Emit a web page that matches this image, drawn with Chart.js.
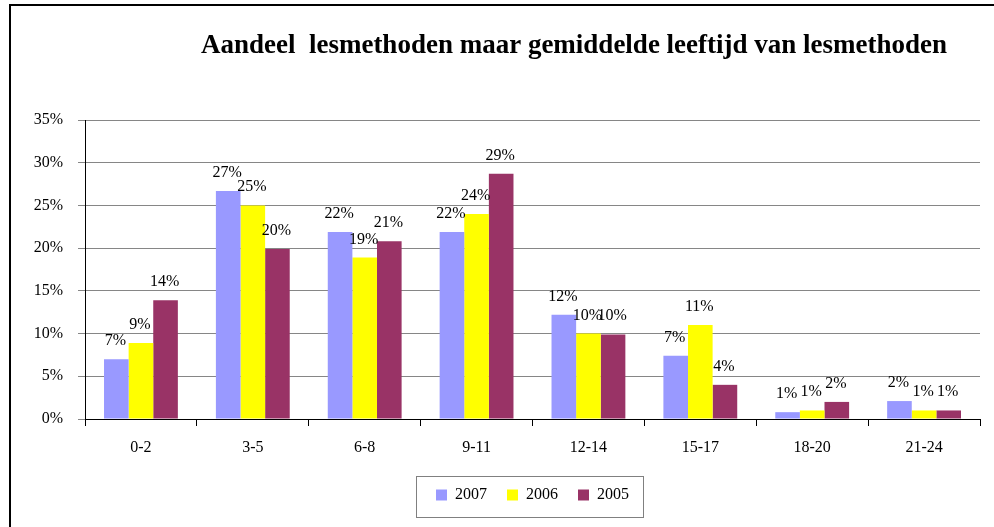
<!DOCTYPE html>
<html>
<head>
<meta charset="utf-8">
<script src="https://cdn.jsdelivr.net/npm/chart.js@4"></script>
<style>
    html, body { margin: 0; padding: 0; background: #fff; overflow: hidden; }
    #frame { position: absolute; left: 9px; top: 4px; width: 1100px; height: 700px; border: 2px solid #000; }
    #chart { position: absolute; left: 0; top: 0; }
</style>
</head>
<body>
<div id="frame"></div>
<canvas id="chart" width="994" height="527"></canvas>
<script>
// Data (percent)
const categories = ['0-2', '3-5', '6-8', '9-11', '12-14', '15-17', '18-20', '21-24'];
const values2007 = [7.0, 26.7, 21.9, 21.9, 12.2, 7.4, 0.8, 2.1];
const values2006 = [8.9, 25.0, 18.9, 24.0, 10.0, 11.0, 1.0, 1.0];
const values2005 = [13.9, 19.9, 20.8, 28.7, 9.9, 4.0, 2.0, 1.0];
const yTicks = [0, 5, 10, 15, 20, 25, 30, 35];

const titleText = 'Aandeel  lesmethoden maar gemiddelde leeftijd van lesmethoden';
const serif = '"Liberation Serif", "DejaVu Serif", serif';

Chart.defaults.font.family = serif;
Chart.defaults.color = '#000';

// Title is offset to the right of the plot, so it is drawn by hand
const titlePlugin = {
    id: 'offsetTitle',
    afterDraw(chart) {
        const ctx = chart.ctx;
        ctx.save();
        ctx.font = 'bold 27px ' + serif;
        ctx.fillStyle = '#000';
        ctx.textAlign = 'center';
        ctx.textBaseline = 'alphabetic';
        ctx.fillText(titleText, 574, 53);
        ctx.restore();
    }
};

// Percentage labels above each bar
const valueLabels = {
    id: 'valueLabels',
    afterDatasetsDraw(chart) {
        const ctx = chart.ctx;
        ctx.save();
        ctx.font = '16px ' + serif;
        ctx.fillStyle = '#000';
        ctx.textAlign = 'center';
        ctx.textBaseline = 'alphabetic';
        chart.data.datasets.forEach((ds, i) => {
            chart.getDatasetMeta(i).data.forEach((bar, j) => {
                ctx.fillText(Math.round(ds.data[j]) + '%', bar.x - 1, bar.y - 14);
            });
        });
        ctx.restore();
    }
};

// Thin grey frame around the legend
const legendBox = {
    id: 'legendBox',
    afterDraw(chart) {
        const lg = chart.legend;
        if (!lg || !lg.legendHitBoxes.length) return;
        const boxes = lg.legendHitBoxes;
        const left = boxes[0].left - 20;
        const right = boxes[boxes.length - 1].left + boxes[boxes.length - 1].width + 14;
        const ctx = chart.ctx;
        ctx.save();
        ctx.strokeStyle = '#808080';
        ctx.lineWidth = 1;
        ctx.strokeRect(left + 0.5, 476.5, right - left, 41);
        ctx.restore();
    }
};

new Chart(document.getElementById('chart'), {
    type: 'bar',
    data: {
        labels: categories,
        datasets: [
            { label: '2007', data: values2007, backgroundColor: '#9999FF' },
            { label: '2006', data: values2006, backgroundColor: '#FFFF00' },
            { label: '2005', data: values2005, backgroundColor: '#993366' }
        ]
    },
    options: {
        responsive: false,
        animation: false,
        layout: { padding: { top: 120, right: 14, bottom: 14, left: 4 } },
        datasets: { bar: { categoryPercentage: 0.66, barPercentage: 1.0, borderWidth: 0 } },
        plugins: {
            title: { display: false },
            tooltip: { enabled: false },
            legend: {
                position: 'bottom',
                fullSize: false,
                labels: {
                    boxWidth: 11,
                    boxHeight: 11,
                    padding: 20,
                    font: { size: 16, family: serif },
                    color: '#000'
                }
            }
        },
        scales: {
            x: {
                afterFit(scale) { scale.height = 48; },
                grid: {
                    drawOnChartArea: false,
                    drawTicks: true,
                    tickLength: 7,
                    color: '#000',
                    offset: true
                },
                border: { color: '#000', width: 1 },
                ticks: { font: { size: 16, family: serif }, color: '#000', padding: 12 }
            },
            y: {
                min: 0,
                max: 35,
                afterFit(scale) { scale.width = 81; },
                afterBuildTicks(scale) { scale.ticks = yTicks.map(v => ({ value: v })); },
                grid: { color: '#868686', tickLength: 7 },
                border: { color: '#000', width: 1 },
                ticks: {
                    font: { size: 16, family: serif },
                    color: '#000',
                    padding: 15,
                    callback: v => v + '%'
                }
            }
        }
    },
    plugins: [titlePlugin, valueLabels, legendBox]
});
</script>
</body>
</html>
